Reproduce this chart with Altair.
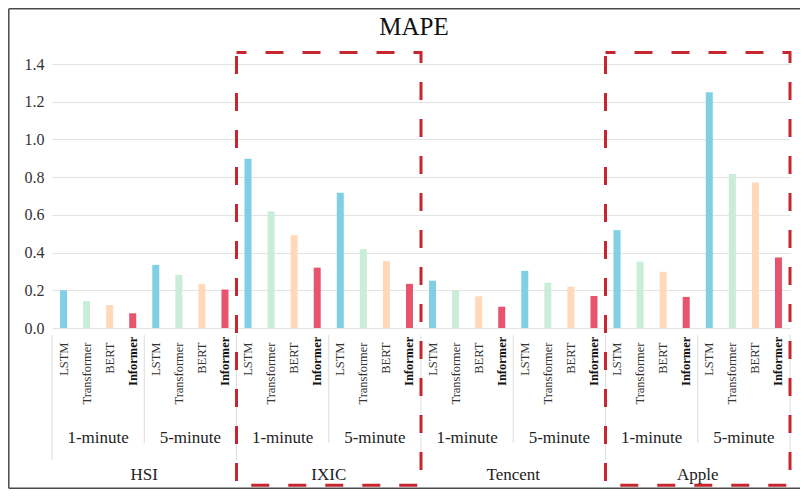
import altair as alt
import pandas as pd

# ---- data ----
datasets = ["HSI", "IXIC", "Tencent", "Apple"]
intervals = ["1-minute", "5-minute"]
models = ["LSTM", "Transformer", "BERT", "Informer"]
# each list: 1-minute (LSTM, Transformer, BERT, Informer), then 5-minute (same order)
mape_hsi = [0.200, 0.143, 0.122, 0.078, 0.335, 0.282, 0.234, 0.204]
mape_ixic = [0.898, 0.618, 0.492, 0.320, 0.717, 0.418, 0.356, 0.234]
mape_tencent = [0.251, 0.198, 0.168, 0.113, 0.303, 0.240, 0.219, 0.170]
mape_apple = [0.519, 0.352, 0.298, 0.165, 1.250, 0.817, 0.772, 0.374]
highlighted = ["IXIC", "Apple"]
y_ticks = [0.0, 0.2, 0.4, 0.6, 0.8, 1.0, 1.2, 1.4]
colors = ["#80CFE5", "#C9EDD6", "#FFD9B9", "#E8546E"]
chart_title = ["MAPE"]

values = {"HSI": mape_hsi, "IXIC": mape_ixic, "Tencent": mape_tencent, "Apple": mape_apple}

bar_rows, iv_rows, ds_rows, box_rows = [], [], [], []
n_m = len(models)
n_g = len(intervals) * n_m
for di, d in enumerate(datasets):
    ds_rows.append({"dataset": d, "pos": di * n_g + n_g / 2})
    if d in highlighted:
        box_rows.append({"dataset": d, "start": di * n_g, "end": (di + 1) * n_g})
    for ii, iv in enumerate(intervals):
        iv_rows.append({"interval": iv, "pos": di * n_g + ii * n_m + n_m / 2})
        for mi, m in enumerate(models):
            slot = di * n_g + ii * n_m + mi
            bar_rows.append({"dataset": d, "interval": iv, "model": m,
                             "value": values[d][ii * n_m + mi], "pos": slot + 0.5})

n_slots = len(datasets) * n_g
iv_bounds = pd.DataFrame({"pos": [b for b in range(0, n_slots + 1, n_m) if b % n_g != 0]})
ds_bounds = pd.DataFrame({"pos": list(range(0, n_slots + 1, n_g))})

df_bars = pd.DataFrame(bar_rows)
df_iv = pd.DataFrame(iv_rows)
df_ds = pd.DataFrame(ds_rows)
df_box = pd.DataFrame(box_rows)
df_title = pd.DataFrame({"title": chart_title, "pos": [n_slots / 2]})
df_frame = pd.DataFrame({"k": [0]})

SERIF = "Liberation Serif"
xs = alt.Scale(domain=[0, n_slots], nice=False, zero=False, padding=0)
ys = alt.Scale(domain=[0, 1.4], nice=False, zero=True, padding=0)
yaxis = alt.Axis(values=y_ticks, format=".1f", ticks=False, domain=False, title=None,
                 grid=True, gridColor="#e3e3e3", gridWidth=1, labelOverlap=False,
                 labelFont=SERIF, labelFontSize=16, labelColor="#333333", labelPadding=8)

W, H = 738, 264
PAD = {"left": 44, "top": 56, "right": 10, "bottom": 161}

# outer picture frame (left, top and bottom edges; right edge lies beyond the page)
frame_style = dict(color="#4a4a4a", strokeWidth=1.5)
frame_top = alt.Chart(df_frame).mark_rule(**frame_style).encode(
    x=alt.value(-43.2), x2=alt.value(W + PAD["right"]), y=alt.value(-55.2))
frame_bottom = alt.Chart(df_frame).mark_rule(**frame_style).encode(
    x=alt.value(-43.2), x2=alt.value(W + PAD["right"]), y=alt.value(H + PAD["bottom"] - 0.8))
frame_left = alt.Chart(df_frame).mark_rule(**frame_style).encode(
    x=alt.value(-43.2), y=alt.value(-55.2), y2=alt.value(H + PAD["bottom"] - 0.8))

bars = alt.Chart(df_bars).mark_bar(size=7).encode(
    x=alt.X("pos:Q", scale=xs, axis=None),
    y=alt.Y("value:Q", scale=ys, axis=yaxis),
    color=alt.Color("model:N", scale=alt.Scale(domain=models, range=colors), legend=None),
    tooltip=["dataset", "interval", "model", "value"],
)

sep_iv = alt.Chart(iv_bounds).mark_rule(color="#dcdcdc", strokeWidth=1).encode(
    x=alt.X("pos:Q", scale=xs, axis=None),
    y=alt.datum(-0.037, scale=ys, axis=yaxis), y2=alt.datum(-0.61),
)
sep_ds = alt.Chart(ds_bounds).mark_rule(color="#dcdcdc", strokeWidth=1).encode(
    x=alt.X("pos:Q", scale=xs, axis=None),
    y=alt.datum(-0.037, scale=ys, axis=yaxis), y2=alt.datum(-0.70),
)

lab_plain = alt.Chart(df_bars).transform_filter("datum.model != 'Informer'").mark_text(
    angle=270, align="right", baseline="middle", font=SERIF, fontSize=12.5, color="#333333"
).encode(x=alt.X("pos:Q", scale=xs, axis=None),
         y=alt.datum(-0.077, scale=ys, axis=yaxis), text="model:N")

lab_bold = alt.Chart(df_bars).transform_filter("datum.model == 'Informer'").mark_text(
    angle=270, align="right", baseline="middle", font=SERIF, fontSize=12.5,
    fontWeight="bold", color="#111111"
).encode(x=alt.X("pos:Q", scale=xs, axis=None),
         y=alt.datum(-0.046, scale=ys, axis=yaxis), text="model:N")

lab_iv = alt.Chart(df_iv).mark_text(
    baseline="middle", font=SERIF, fontSize=17, color="#222222"
).encode(x=alt.X("pos:Q", scale=xs, axis=None),
         y=alt.datum(-0.585, scale=ys, axis=yaxis), text="interval:N")

lab_ds = alt.Chart(df_ds).mark_text(
    baseline="middle", font=SERIF, fontSize=17, color="#222222"
).encode(x=alt.X("pos:Q", scale=xs, axis=None),
         y=alt.datum(-0.781, scale=ys, axis=yaxis), text="dataset:N")

title = alt.Chart(df_title).mark_text(
    baseline="middle", font=SERIF, fontSize=25, color="#111111", dx=-7
).encode(x=alt.X("pos:Q", scale=xs, axis=None),
         y=alt.datum(1.595, scale=ys, axis=yaxis), text="title:N")

boxes = alt.Chart(df_box).mark_rect(
    filled=False, stroke="#C8262F", strokeWidth=3, strokeDash=[18, 19], strokeDashOffset=8
).encode(
    x=alt.X("start:Q", scale=xs, axis=None), x2="end:Q",
    y=alt.datum(1.461, scale=ys, axis=yaxis), y2=alt.datum(-0.834),
)

chart = alt.layer(
    bars, frame_top, frame_bottom, frame_left, sep_iv, sep_ds,
    lab_plain, lab_bold, lab_iv, lab_ds, title, boxes
).properties(
    width=W, height=H,
    autosize=alt.AutoSizeParams(type="none"),
    padding=PAD,
).configure_view(stroke=None)

chart.save("out.html", embed_options={"renderer": "svg", "actions": False})
